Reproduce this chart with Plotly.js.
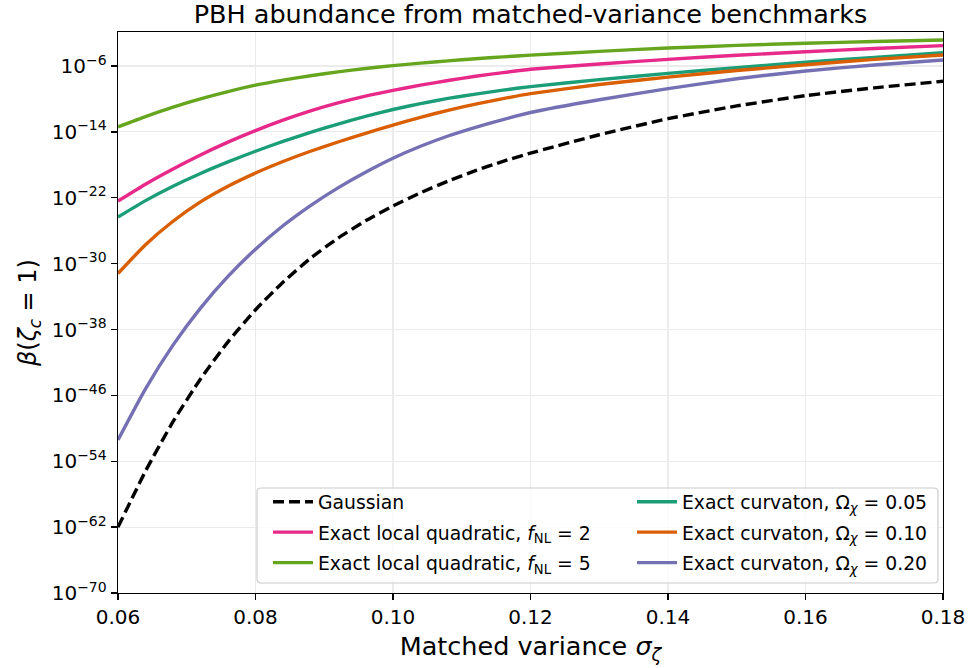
<!DOCTYPE html>
<html>
<head>
<meta charset="utf-8">
<script src="https://cdn.plot.ly/plotly-3.0.1.min.js"></script>
<style>html,body{margin:0;padding:0;background:#fff;}#chart{width:969px;height:668px;}</style>
</head>
<body>
<div id="chart"></div>
<script>
// matched variance sigma_zeta
const sigma = [0.060, 0.064, 0.068, 0.072, 0.076, 0.080, 0.084, 0.088, 0.092, 0.096, 0.100, 0.104, 0.108, 0.112, 0.116, 0.120, 0.130, 0.140, 0.150, 0.160, 0.170, 0.180];
// log10 beta(zeta_c = 1)
const logGaussian = [-62.0, -55.2, -49.2, -44.0, -39.5, -35.6, -32.25, -29.35, -26.9, -24.8, -23.0, -21.4, -19.98, -18.71, -17.58, -16.58, -14.35, -12.4, -10.85, -9.6, -8.65, -7.85];
const logFnl2     = [-22.4, -20.35, -18.5, -16.8, -15.25, -13.85, -12.58, -11.45, -10.48, -9.65, -8.95, -8.33, -7.76, -7.25, -6.8, -6.4, -5.75, -5.19, -4.7, -4.26, -3.88, -3.53];
const logFnl5     = [-13.4, -12.15, -11.0, -10.0, -9.1, -8.33, -7.72, -7.18, -6.71, -6.3, -5.95, -5.65, -5.37, -5.12, -4.89, -4.68, -4.22, -3.82, -3.5, -3.24, -3.03, -2.84];
const logOm005    = [-24.35, -22.35, -20.6, -19.05, -17.65, -16.35, -15.15, -14.05, -13.05, -12.13, -11.28, -10.56, -9.94, -9.41, -8.93, -8.5, -7.65, -6.9, -6.2, -5.55, -4.95, -4.38];
const logOm010    = [-31.2, -27.7, -24.85, -22.5, -20.6, -19.0, -17.6, -16.35, -15.23, -14.18, -13.18, -12.23, -11.38, -10.63, -9.96, -9.36, -8.25, -7.35, -6.55, -5.84, -5.2, -4.66];
const logOm020    = [-51.4, -45.2, -39.9, -35.4, -31.55, -28.25, -25.4, -22.95, -20.8, -18.9, -17.2, -15.75, -14.5, -13.45, -12.5, -11.65, -10.1, -8.75, -7.55, -6.6, -5.87, -5.27];

const seriesNames = {
  gauss: "Gaussian",
  fnl2: "Exact local quadratic, <i>f</i><sub>NL</sub> = 2",
  fnl5: "Exact local quadratic, <i>f</i><sub>NL</sub> = 5",
  om005: "Exact curvaton, Ω<sub><i>χ</i></sub> = 0.05",
  om010: "Exact curvaton, Ω<sub><i>χ</i></sub> = 0.10",
  om020: "Exact curvaton, Ω<sub><i>χ</i></sub> = 0.20"
};

const xTicks = [0.06, 0.08, 0.10, 0.12, 0.14, 0.16, 0.18];
const yTickExponents = [-70, -62, -54, -46, -38, -30, -22, -14, -6];

const toVal = arr => arr.map(e => Math.pow(10, e));

function tr(name, logs, color, legend, dash) {
  return {
    x: sigma, y: toVal(logs), name: name, type: 'scatter', mode: 'lines',
    legend: legend, legendgroup: name,
    line: {color: color, width: 3.4, dash: dash || 'solid', shape: 'spline', smoothing: 0.5}
  };
}

const data = [
  tr(seriesNames.gauss, logGaussian, '#000000', 'legend', '11px,5px'),
  tr(seriesNames.fnl2, logFnl2, '#e7298a', 'legend'),
  tr(seriesNames.fnl5, logFnl5, '#66a61e', 'legend'),
  tr(seriesNames.om005, logOm005, '#1b9e77', 'legend2'),
  tr(seriesNames.om010, logOm010, '#d95f02', 'legend2'),
  tr(seriesNames.om020, logOm020, '#7570b3', 'legend2')
];

const font = "DejaVu Sans, sans-serif";
const bx0 = 0.1685, bx1 = 0.9939, by0 = 0.0178, by1 = 0.1872, rx = 0.005, ry = 0.0071;
const boxPath = `M ${bx0+rx} ${by0} L ${bx1-rx} ${by0} Q ${bx1} ${by0} ${bx1} ${by0+ry} L ${bx1} ${by1-ry} Q ${bx1} ${by1} ${bx1-rx} ${by1} L ${bx0+rx} ${by1} Q ${bx0} ${by1} ${bx0} ${by1-ry} L ${bx0} ${by0+ry} Q ${bx0} ${by0} ${bx0+rx} ${by0} Z`;

const legendCommon = {
  orientation: 'v', yanchor: 'top', xanchor: 'left',
  bgcolor: 'rgba(0,0,0,0)', borderwidth: 0,
  font: {family: font, size: 18.8}, itemwidth: 40, tracegroupgap: 3, traceorder: 'grouped'
};

const layout = {
  width: 969, height: 668,
  margin: {l: 118, r: 26, t: 32, b: 75},
  paper_bgcolor: '#fff', plot_bgcolor: '#fff',
  font: {family: font, color: '#000', size: 19},
  title: {text: "PBH abundance from matched-variance benchmarks", font: {family: font, size: 25.5, color: '#000'},
          x: 530.5/969, xanchor: 'center', xref: 'container', y: 1 - 14/668, yanchor: 'middle', yref: 'container'},
  xaxis: {
    type: 'linear', range: [0.06, 0.18], tickvals: xTicks, ticktext: xTicks.map(v => v.toFixed(2)),
    showline: true, linecolor: '#000', linewidth: 1.3, mirror: true,
    ticks: 'outside', ticklen: 6, tickwidth: 1.3, tickcolor: '#000',
    showgrid: true, gridcolor: '#ebebeb', gridwidth: 1.2, zeroline: false,
    tickfont: {family: font, size: 20},
    title: {text: "Matched variance <i>σ</i><sub><i>ζ</i></sub>", font: {family: font, size: 25.5}, standoff: 9},
    automargin: false
  },
  yaxis: {
    type: 'log', range: [-70, -1.87],
    tickvals: yTickExponents.map(e => Math.pow(10, e)),
    ticktext: yTickExponents.map(e => "10<sup>−" + Math.abs(e) + "</sup>"),
    showline: true, linecolor: '#000', linewidth: 1.3, mirror: true,
    ticks: 'outside', ticklen: 6, tickwidth: 1.3, tickcolor: '#000',
    showgrid: true, gridcolor: '#ebebeb', gridwidth: 1.2, zeroline: false,
    tickfont: {family: font, size: 20},
    title: {text: "<i>β</i>(<i>ζ</i><sub><i>c</i></sub> = 1)", font: {family: font, size: 24}, standoff: 8},
    automargin: false
  },
  shapes: [{type: 'path', xref: 'paper', yref: 'paper', path: boxPath, layer: 'above',
            fillcolor: 'rgba(255,255,255,0.8)', line: {color: '#cccccc', width: 1.2}}],
  legend: Object.assign({}, legendCommon, {x: (268-118)/825, y: (593-483)/561}),
  legend2: Object.assign({}, legendCommon, {x: (632-118)/825, y: (593-483)/561}),
  showlegend: true
};

Plotly.newPlot('chart', data, layout, {staticPlot: true, displayModeBar: false});
</script>
</body>
</html>
